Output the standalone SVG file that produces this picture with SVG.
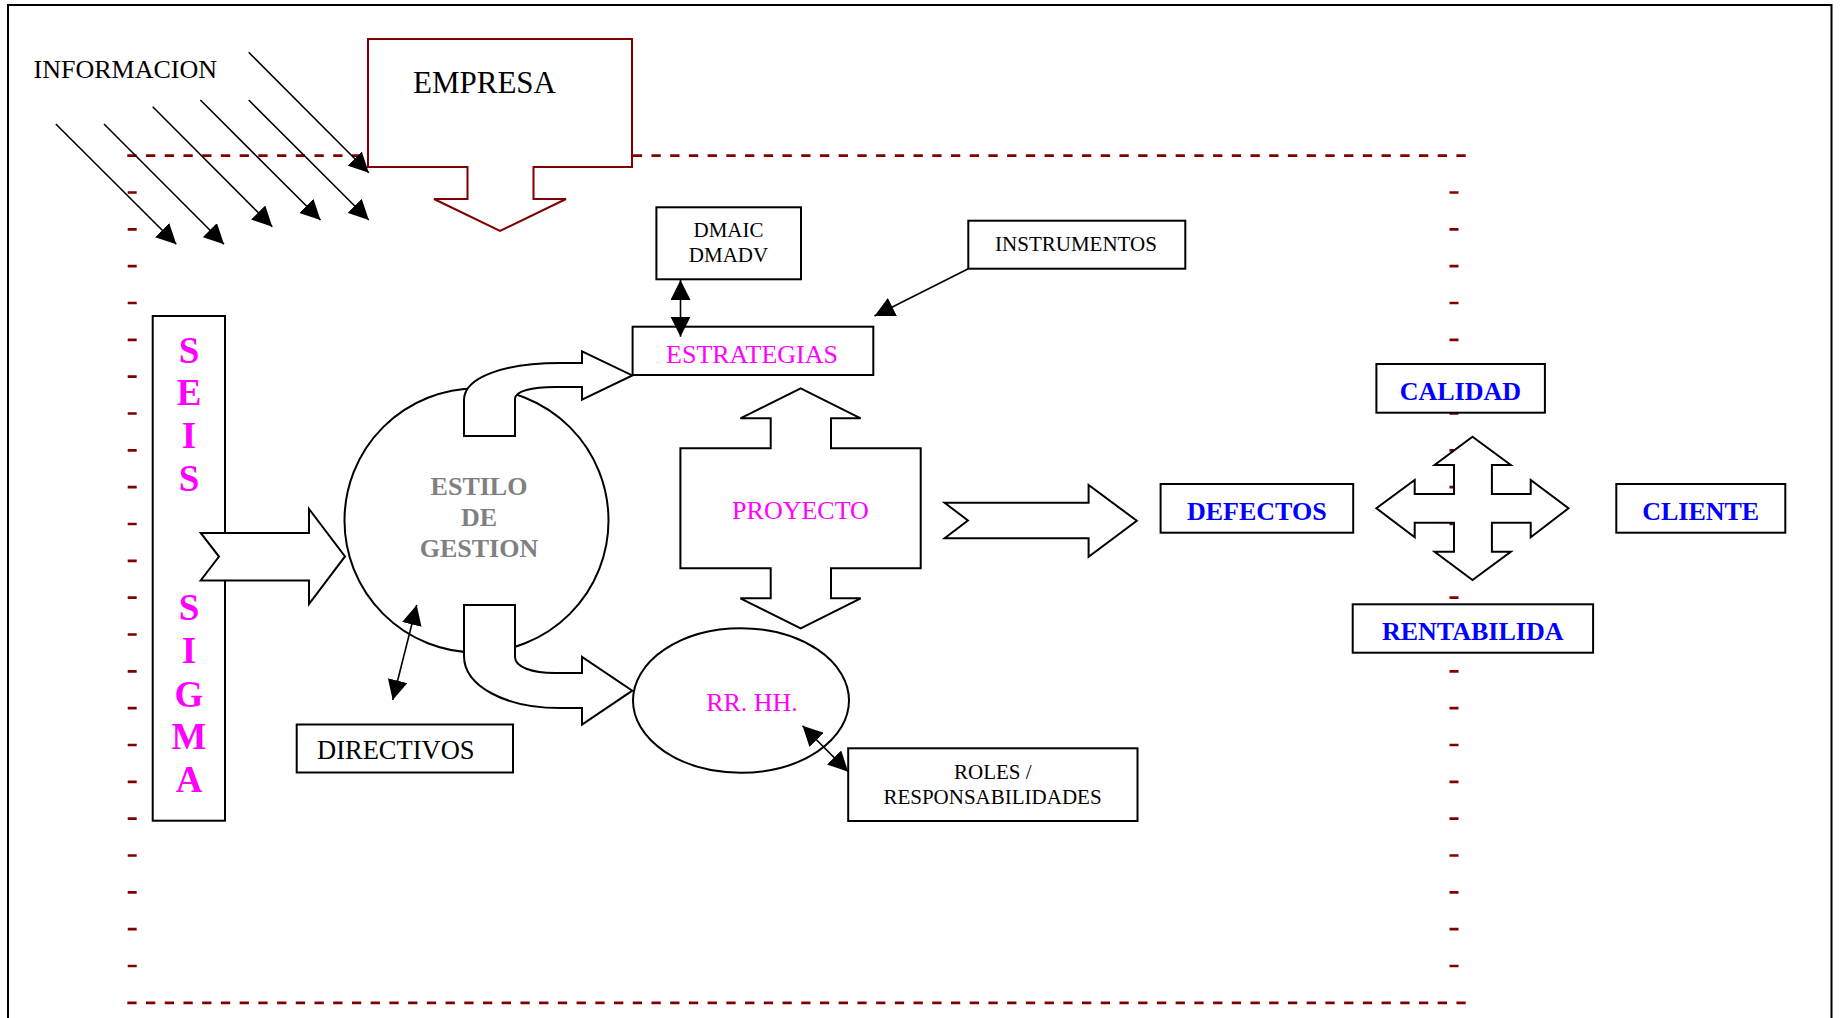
<svg xmlns="http://www.w3.org/2000/svg" width="1842" height="1018" viewBox="0 0 1842 1018">
<defs>
<marker id="ah" viewBox="0 0 20 20" refX="20" refY="10" markerWidth="20" markerHeight="20" markerUnits="userSpaceOnUse" orient="auto-start-reverse"><path d="M0,0 L20,10 L0,20 Z" fill="#000"/></marker>
<style>
.box{fill:#fff;stroke:#000;stroke-width:2}
.blk{fill:#fff;stroke:#000;stroke-width:2;stroke-linejoin:miter}
.t{font-family:"Liberation Serif","Times New Roman",serif;fill:#000}
.c{text-anchor:middle}
.mag{fill:#FF00FF}
.blue{fill:#0000FF;font-weight:bold}
.gray{fill:#808080;font-weight:bold}
.conn{stroke:#000;stroke-width:1.6;fill:none}
.dash{stroke:#800000;stroke-width:2.7;fill:none}
</style>
</defs>
<rect x="0" y="0" width="1842" height="1018" fill="#fff"/>
<rect x="8" y="5" width="1823.5" height="1100" fill="none" stroke="#000" stroke-width="2"/>

<g id="boundary">
<path class="dash" d="M127.3,155.7 H1466" stroke-dasharray="9.3 9.42"/>
<path class="dash" d="M127.3,1002.8 H1466" stroke-dasharray="9.3 9.42"/>
<path class="dash" d="M127.7,192.5h9M127.7,229.4h9M127.7,266.2h9M127.7,303h9M127.7,339.9h9M127.7,376.7h9M127.7,413.5h9M127.7,450.3h9M127.7,487.2h9M127.7,524h9M127.7,560.8h9M127.7,597.7h9M127.7,634.5h9M127.7,671.3h9M127.7,708.2h9M127.7,745h9M127.7,781.8h9M127.7,818.6h9M127.7,855.5h9M127.7,892.3h9M127.7,929.1h9M127.7,966h9"/>
<path class="dash" d="M1449.5,192.5h9M1449.5,229.4h9M1449.5,266.2h9M1449.5,303h9M1449.5,339.9h9M1449.5,376.7h9M1449.5,413.5h9M1449.5,450.3h9M1449.5,487.2h9M1449.5,524h9M1449.5,560.8h9M1449.5,597.7h9M1449.5,634.5h9M1449.5,671.3h9M1449.5,708.2h9M1449.5,745h9M1449.5,781.8h9M1449.5,818.6h9M1449.5,855.5h9M1449.5,892.3h9M1449.5,929.1h9M1449.5,966h9"/>
</g>

<g id="informacion">
<text class="t" x="33.5" y="78" font-size="26">INFORMACION</text>
</g>

<g id="empresa">
<path d="M368,39 H632 V167 H533.5 V199 H566 L500,231 L434,199 H467.5 V167 H368 Z" fill="#fff" stroke="#800000" stroke-width="2"/>
<text class="t" x="413" y="93" font-size="31">EMPRESA</text>
</g>

<g id="seis-sigma">
<rect class="box" x="152.7" y="316" width="72.3" height="504.7"/>
<g class="t c" font-size="37" font-weight="bold" fill="#FF00FF" style="fill:#FF00FF">
<text x="189" y="362.5">S</text>
<text x="189" y="405">E</text>
<text x="189" y="448">I</text>
<text x="189" y="491">S</text>
<text x="189" y="619.6">S</text>
<text x="189" y="663">I</text>
<text x="189" y="707">G</text>
<text x="189" y="749">M</text>
<text x="189" y="792">A</text>
</g>
</g>

<g id="estilo-de-gestion">
<circle class="box" cx="476.5" cy="520.5" r="132"/>
<text class="t c gray" x="479" y="495" font-size="26">ESTILO</text>
<text class="t c gray" x="479" y="526" font-size="26">DE</text>
<text class="t c gray" x="479" y="557" font-size="26">GESTION</text>
</g>

<g id="directivos">
<rect class="box" x="296.7" y="724.5" width="216.3" height="48"/>
<text class="t" x="317" y="759" font-size="26.5">DIRECTIVOS</text>
</g>

<g id="dmaic">
<rect class="box" x="656.4" y="207.3" width="144.6" height="72"/>
<text class="t c" x="728.5" y="237.3" font-size="21">DMAIC</text>
<text class="t c" x="728.5" y="261.7" font-size="21">DMADV</text>
</g>

<g id="instrumentos">
<rect class="box" x="968.3" y="220.7" width="217" height="48"/>
<text class="t c" x="1076" y="251" font-size="21">INSTRUMENTOS</text>
</g>

<g id="estrategias">
<rect class="box" x="632.6" y="326.7" width="240.7" height="48.3"/>
<text class="t c mag" x="752" y="362.7" font-size="26">ESTRATEGIAS</text>
</g>

<g id="proyecto">
<path class="blk" d="M800.7,388.3 L860.7,418.3 H831 V448.3 H920.7 V568.3 H831 V598.3 H860.7 L800.7,628.3 L740.4,598.3 H770.7 V568.3 H680.4 V448.3 H770.7 V418.3 H740.4 Z"/>
<text class="t c mag" x="800.5" y="519.3" font-size="26">PROYECTO</text>
</g>

<g id="rrhh">
<ellipse class="box" cx="741" cy="700.5" rx="108" ry="72.2"/>
<text class="t c mag" x="752" y="710.7" font-size="26">RR. HH.</text>
</g>

<g id="roles">
<rect class="box" x="848.2" y="748.3" width="289.3" height="72.7"/>
<text class="t c" x="992.8" y="779.3" font-size="21">ROLES /</text>
<text class="t c" x="992.5" y="804" font-size="21">RESPONSABILIDADES</text>
</g>

<g id="calidad">
<rect class="box" x="1376.4" y="364" width="168.5" height="48.7"/>
<text class="t c blue" x="1460.3" y="400" font-size="26">CALIDAD</text>
</g>

<g id="defectos">
<rect class="box" x="1160.6" y="484" width="192.6" height="48.7"/>
<text class="t c blue" x="1256.8" y="520" font-size="26">DEFECTOS</text>
</g>

<g id="cliente">
<rect class="box" x="1616.3" y="484" width="169" height="48.7"/>
<text class="t c blue" x="1700.7" y="520" font-size="26">CLIENTE</text>
</g>

<g id="rentabilida">
<rect class="box" x="1352.7" y="604.3" width="240.4" height="48.4"/>
<text class="t c blue" x="1472.7" y="640" font-size="26">RENTABILIDA</text>
</g>

<g id="connectors">
<path class="conn" d="M55.8,124 L176.3,244.3" marker-end="url(#ah)"/>
<path class="conn" d="M104,124 L224,244.3" marker-end="url(#ah)"/>
<path class="conn" d="M152.7,106.7 L272.3,226.7" marker-end="url(#ah)"/>
<path class="conn" d="M200.4,100 L320.5,220" marker-end="url(#ah)"/>
<path class="conn" d="M248.7,100 L368.8,220" marker-end="url(#ah)"/>
<path class="conn" d="M248.7,52.3 L368.8,172.7" marker-end="url(#ah)"/>
<path class="conn" d="M680.5,280 L680.5,336.7" marker-start="url(#ah)" marker-end="url(#ah)"/>
<path class="conn" d="M968.3,268.7 L874.5,316" marker-end="url(#ah)"/>
<path class="conn" d="M416.7,605 L392.7,700" marker-start="url(#ah)" marker-end="url(#ah)"/>
<path class="conn" d="M802.5,725.7 L848.2,771.7" marker-start="url(#ah)" marker-end="url(#ah)"/>
<path class="blk" d="M200.7,532.9 H309 V509 L345,556.4 L309,604 V580.4 H200.7 L219,556.6 Z"/>
<path class="blk" d="M464,436 L464,400 C464,377 505,363 560,363 L582,363 L582,351.4 L632.3,375.4 L582,399.6 L582,387 L555,387 C532,387 515,391 515,399 L515,436 Z"/>
<path class="blk" d="M464,605 L464,656 C464,686 505,708 560,708 L582,708 L582,724.6 L632.3,690.7 L582,656.8 L582,673 L555,673 C532,673 515,667 515,657 L515,605 Z"/>
<path class="blk" d="M944.6,502.7 H1088.6 V485 L1136.8,520.7 L1088.6,556.7 V538.3 H944.6 L967.9,520.5 Z"/>
<path class="blk" d="M1472.5,436.7 L1510.8,465 L1491.9,465 L1491.9,494 L1530.7,494 L1530.7,480 L1568.5,508.3 L1530.7,537.3 L1530.7,522.7 L1491.9,522.7 L1491.9,551.7 L1510.8,551.7 L1472.5,580 L1434.6,551.7 L1454,551.7 L1454,522.7 L1414.7,522.7 L1414.7,537.3 L1376.4,508.3 L1414.7,480 L1414.7,494 L1454,494 L1454,465 L1434.6,465 Z"/>
</g>
</svg>
